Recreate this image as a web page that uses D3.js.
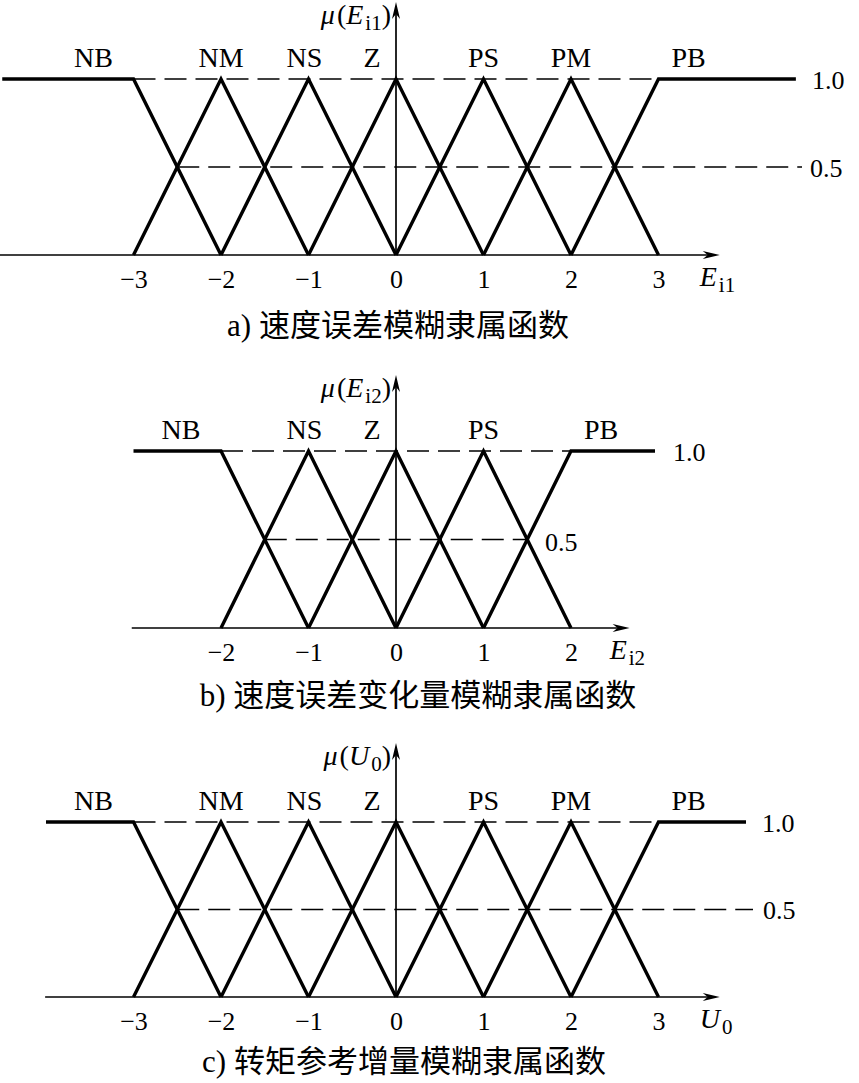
<!DOCTYPE html>
<html><head><meta charset="utf-8">
<script src="https://cdn.jsdelivr.net/npm/d3@7"></script>
<style>body{margin:0;background:#fff}</style>
</head><body><svg id="chart" width="859" height="1083"></svg>
<script>
// ---- data ----
const setsA = ["NB","NM","NS","Z","PS","PM","PB"];
const peaksA = [-3,-2,-1,0,1,2,3];
const setsB = ["NB","NS","Z","PS","PB"];
const peaksB = [-2,-1,0,1,2];
const setsC = ["NB","NM","NS","Z","PS","PM","PB"];
const peaksC = [-3,-2,-1,0,1,2,3];
const ticksA = [-3,-2,-1,0,1,2,3];
const ticksB = [-2,-1,0,1,2];
const ticksC = [-3,-2,-1,0,1,2,3];
const levels = [0.5, 1.0];
const levelLabels = ["0.5","1.0"];
const captionLetters = ["a)","b)","c)"];
const captionTexts = ["速度误差模糊隶属函数","速度误差变化量模糊隶属函数","转矩参考增量模糊隶属函数"];
const xVarMain = ["E","E","U"];
const xVarSub = ["i1","i2","0"];
const yVarMain = ["E","E","U"];
const yVarSub = ["i1","i2","0"];

// ---- layout ----
const svg = d3.select("#chart");
const x = d3.scaleLinear().domain([-3,3]).range([133.5,658.5]);
const serif = "'Liberation Serif','Times New Roman',serif";
const cjk = "'Noto Sans CJK SC','Noto Sans CJK JP',sans-serif";

const panels = [
  {sets:setsA, peaks:peaksA, ticks:ticksA, y0:255, y1:79, yTop:2, axL:-4.53, axR:3.7,
   shL:-4.5, shR:4.57, halfEndPx:802, halfLblX:810, oneLblX:812, capX:398, capY:336},
  {sets:setsB, peaks:peaksB, ticks:ticksB, y0:628, y1:451, yTop:375, axL:-3.02, axR:2.67,
   shL:-3.0, shR:2.96, halfEndPx:null, halfLblX:545, oneLblX:673, capX:418, capY:706},
  {sets:setsC, peaks:peaksC, ticks:ticksC, y0:997, y1:822, yTop:743, axL:-4.01, axR:3.7,
   shL:-4.0, shR:4.0, halfEndPx:753, halfLblX:763, oneLblX:762, capX:404, capY:1072}
];

const labelShift = {NB:-40, NS:-4, Z:-24, PB:30};

panels.forEach((p, i) => {
  const g = svg.append("g");
  const y = d3.scaleLinear().domain([0,1]).range([p.y0, p.y1]);
  const n = p.peaks.length;
  const first = p.peaks[0], last = p.peaks[n-1];

  // dashed reference lines
  g.append("line").attr("x1", x(first)).attr("x2", x(last))
    .attr("y1", y(1)).attr("y2", y(1))
    .attr("stroke","#000").attr("stroke-width",1.6).attr("stroke-dasharray","22,9");
  const halfEnd = p.halfEndPx != null ? p.halfEndPx : x(last - 0.5);
  g.append("line").attr("x1", x(first + 0.5)).attr("x2", halfEnd)
    .attr("y1", y(0.5)).attr("y2", y(0.5))
    .attr("stroke","#000").attr("stroke-width",1.6).attr("stroke-dasharray","22,9");

  // x axis via d3 axis (labels) + line with arrow
  const ax = d3.axisBottom(x).tickValues(p.ticks).tickFormat(d3.format("d")).tickSize(0).tickPadding(0);
  const axg = g.append("g").attr("transform", `translate(0,${p.y0})`).call(ax);
  axg.select(".domain").remove();
  axg.selectAll("text").attr("font-family", serif).attr("font-size", 26)
    .attr("fill","#000").attr("dy", null).attr("y", 33);

  const xl = x(p.axL), xr = x(p.axR);
  g.append("line").attr("x1", xl).attr("x2", xr - 6).attr("y1", p.y0).attr("y2", p.y0)
    .attr("stroke","#000").attr("stroke-width",1.7);
  g.append("path")
    .attr("d", `M${xr},${p.y0} L${xr-17},${p.y0-4} L${xr-12},${p.y0} L${xr-17},${p.y0+4} Z`)
    .attr("fill","#000");

  // y axis
  const yx = x(0);
  g.append("line").attr("x1", yx).attr("x2", yx).attr("y1", p.y0).attr("y2", p.yTop + 6)
    .attr("stroke","#000").attr("stroke-width",1.7);
  g.append("path")
    .attr("d", `M${yx},${p.yTop} L${yx-4},${p.yTop+17} L${yx},${p.yTop+12} L${yx+4},${p.yTop+17} Z`)
    .attr("fill","#000");

  // membership functions
  p.sets.forEach((name, k) => {
    const c = p.peaks[k];
    let pts;
    if (k === 0) pts = [[p.shL,1],[c,1],[c+1,0]];
    else if (k === n-1) pts = [[c-1,0],[c,1],[p.shR,1]];
    else pts = [[c-1,0],[c,1],[c+1,0]];
    g.append("path")
      .attr("d", d3.line().x(d => x(d[0])).y(d => y(d[1]))(pts))
      .attr("fill","none").attr("stroke","#000").attr("stroke-width",3.4)
      .attr("stroke-linejoin","miter");
    g.append("text").attr("x", x(c) + (labelShift[name] || 0)).attr("y", y(1) - 12)
      .attr("text-anchor","middle").attr("font-family", serif).attr("font-size", 28)
      .attr("fill","#000").text(name);
  });

  // level labels
  levels.forEach((lv, j) => {
    g.append("text").attr("x", lv === 1 ? p.oneLblX : p.halfLblX)
      .attr("y", y(lv) + (i === 1 && lv === 0.5 ? 11 : 9.5))
      .attr("font-family", serif).attr("font-size", 26).attr("fill","#000")
      .text(levelLabels[j]);
  });

  // x variable label
  const xv = g.append("text").attr("x", x(p.axR) - 20).attr("y", p.y0 + 31)
    .attr("font-family", serif).attr("font-size", 28).attr("fill","#000");
  xv.append("tspan").attr("font-style","italic").text(xVarMain[i]);
  xv.append("tspan").attr("font-size", 21).attr("dx", 2).attr("dy", 6).text(xVarSub[i]);

  // y variable label
  const yv = g.append("text").attr("x", yx - 5).attr("y", p.yTop + 22)
    .attr("text-anchor","end").attr("font-family", serif).attr("font-size", 28).attr("fill","#000");
  yv.append("tspan").attr("font-style","italic").text("μ");
  yv.append("tspan").attr("dx", 2).text("(");
  yv.append("tspan").attr("font-style","italic").text(yVarMain[i]);
  yv.append("tspan").attr("font-size", 21).attr("dx", 2).attr("dy", 6).text(yVarSub[i]);
  yv.append("tspan").attr("dy", -6).text(")");

  // caption
  const cap = g.append("text").attr("x", p.capX).attr("y", p.capY)
    .attr("text-anchor","middle").attr("fill","#000");
  cap.append("tspan").attr("font-family", serif).attr("font-size", 31).text(captionLetters[i] + " ");
  cap.append("tspan").attr("font-family", cjk).attr("font-size", 31).text(captionTexts[i]);
});
</script></body></html>
